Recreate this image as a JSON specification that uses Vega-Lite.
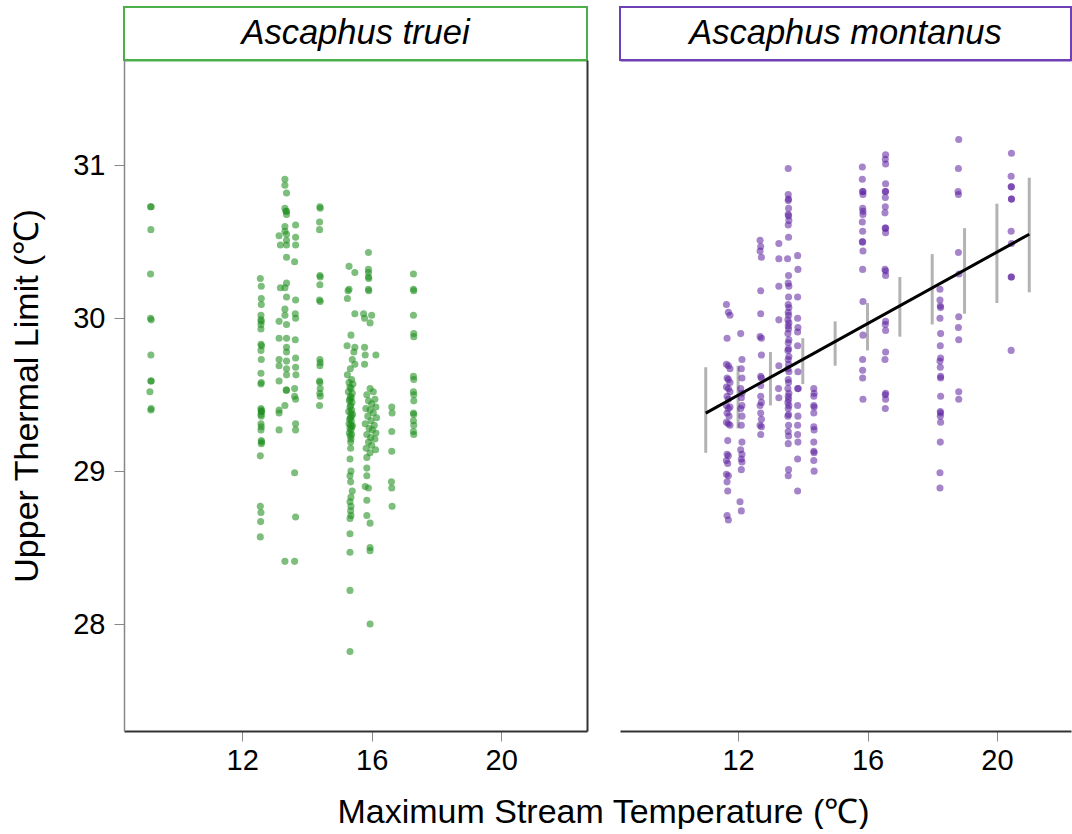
{
  "$schema": "https://vega.github.io/schema/vega-lite/v6.json",
  "background": "white",
  "padding": {"left": 10, "top": 6, "right": 0, "bottom": 0},
  "bounds": "flush",
  "columns": 2,
  "spacing": {"row": 0, "column": 33},
  "config": {
    "view": {"stroke": null},
    "font": "Liberation Sans",
    "axis": {"grid": false, "labelFont": "Liberation Sans", "titleFont": "Liberation Sans", "labelFontSize": 29, "titleFontSize": 34, "titleFontWeight": "normal", "labelColor": "black", "titleColor": "black", "tickColor": "#888888", "tickSize": 10, "tickWidth": 1}
  },
  "datasets": {
    "truei": [
      {"t":9.17,"u":30.73},{"t":9.19,"u":30.73},{"t":9.18,"u":30.58},{"t":9.17,"u":30.29},{"t":9.17,"u":30.00},{"t":9.19,"u":29.99},{"t":9.18,"u":29.76},{"t":9.18,"u":29.59},{"t":9.19,"u":29.59},{"t":9.15,"u":29.52},{"t":9.19,"u":29.41},{"t":9.18,"u":29.40},
      {"t":12.56,"u":30.26},{"t":12.59,"u":30.21},{"t":12.59,"u":30.13},{"t":12.59,"u":30.09},{"t":12.58,"u":30.02},{"t":12.58,"u":29.99},{"t":12.59,"u":29.98},{"t":12.58,"u":29.96},{"t":12.58,"u":29.93},{"t":12.58,"u":29.83},{"t":12.6,"u":29.82},{"t":12.58,"u":29.79},{"t":12.59,"u":29.73},{"t":12.58,"u":29.64},{"t":12.59,"u":29.58},{"t":12.58,"u":29.57},{"t":12.58,"u":29.41},{"t":12.59,"u":29.40},{"t":12.6,"u":29.39},{"t":12.59,"u":29.39},{"t":12.58,"u":29.37},{"t":12.59,"u":29.36},{"t":12.58,"u":29.31},{"t":12.59,"u":29.29},{"t":12.58,"u":29.27},{"t":12.59,"u":29.20},{"t":12.6,"u":29.19},{"t":12.59,"u":29.18},{"t":12.56,"u":29.10},{"t":12.56,"u":28.77},{"t":12.58,"u":28.73},{"t":12.57,"u":28.67},{"t":12.56,"u":28.57},
      {"t":13.32,"u":30.91},{"t":13.32,"u":30.87},{"t":13.37,"u":30.82},{"t":13.32,"u":30.72},{"t":13.37,"u":30.70},{"t":13.35,"u":30.70},{"t":13.37,"u":30.68},{"t":13.32,"u":30.60},{"t":13.32,"u":30.57},{"t":13.37,"u":30.55},{"t":13.14,"u":30.54},{"t":13.37,"u":30.51},{"t":13.18,"u":30.48},{"t":13.37,"u":30.48},{"t":13.37,"u":30.40},{"t":13.37,"u":30.23},{"t":13.18,"u":30.20},{"t":13.32,"u":30.20},{"t":13.37,"u":30.14},{"t":13.32,"u":30.06},{"t":13.32,"u":30.02},{"t":13.14,"u":29.98},{"t":13.37,"u":29.96},{"t":13.14,"u":29.87},{"t":13.37,"u":29.87},{"t":13.37,"u":29.81},{"t":13.37,"u":29.78},{"t":13.14,"u":29.73},{"t":13.37,"u":29.72},{"t":13.14,"u":29.69},{"t":13.37,"u":29.67},{"t":13.37,"u":29.63},{"t":13.14,"u":29.59},{"t":13.37,"u":29.53},{"t":13.36,"u":29.53},{"t":13.32,"u":29.43},{"t":13.14,"u":29.40},{"t":13.14,"u":29.38},{"t":13.14,"u":29.27},{"t":13.32,"u":28.41},
      {"t":13.65,"u":30.61},{"t":13.65,"u":30.53},{"t":13.65,"u":30.48},{"t":13.62,"u":30.37},{"t":13.65,"u":30.12},{"t":13.64,"u":30.03},{"t":13.65,"u":30.00},{"t":13.64,"u":29.86},{"t":13.65,"u":29.74},{"t":13.65,"u":29.68},{"t":13.66,"u":29.63},{"t":13.62,"u":29.54},{"t":13.62,"u":29.49},{"t":13.65,"u":29.47},{"t":13.65,"u":29.31},{"t":13.65,"u":29.27},{"t":13.62,"u":28.99},{"t":13.65,"u":28.70},{"t":13.62,"u":28.41},
      {"t":14.40,"u":30.73},{"t":14.41,"u":30.72},{"t":14.39,"u":30.63},{"t":14.39,"u":30.58},{"t":14.40,"u":30.28},{"t":14.41,"u":30.27},{"t":14.40,"u":30.22},{"t":14.39,"u":30.12},{"t":14.41,"u":30.11},{"t":14.40,"u":29.73},{"t":14.41,"u":29.71},{"t":14.40,"u":29.69},{"t":14.39,"u":29.59},{"t":14.40,"u":29.58},{"t":14.41,"u":29.54},{"t":14.40,"u":29.51},{"t":14.41,"u":29.49},{"t":14.39,"u":29.43},
      {"t":15.30,"u":30.34},{"t":15.48,"u":30.30},{"t":15.30,"u":30.19},{"t":15.27,"u":30.18},{"t":15.25,"u":30.13},{"t":15.48,"u":30.03},{"t":15.36,"u":29.89},{"t":15.24,"u":29.82},{"t":15.48,"u":29.81},{"t":15.45,"u":29.78},{"t":15.40,"u":29.73},{"t":15.48,"u":29.70},{"t":15.34,"u":29.67},{"t":15.25,"u":29.63},
      {"t":15.38,"u":29.60},{"t":15.30,"u":29.58},{"t":15.42,"u":29.57},{"t":15.33,"u":29.55},{"t":15.36,"u":29.54},{"t":15.28,"u":29.52},{"t":15.40,"u":29.51},{"t":15.34,"u":29.49},{"t":15.37,"u":29.48},{"t":15.31,"u":29.46},{"t":15.39,"u":29.45},{"t":15.35,"u":29.43},{"t":15.33,"u":29.42},{"t":15.38,"u":29.40},{"t":15.29,"u":29.39},{"t":15.36,"u":29.38},{"t":15.41,"u":29.37},{"t":15.34,"u":29.35},{"t":15.32,"u":29.34},{"t":15.37,"u":29.33},{"t":15.30,"u":29.31},{"t":15.35,"u":29.30},{"t":15.39,"u":29.29},{"t":15.33,"u":29.28},{"t":15.36,"u":29.27},{"t":15.31,"u":29.25},{"t":15.38,"u":29.24},{"t":15.34,"u":29.23},{"t":15.36,"u":29.21},{"t":15.40,"u":29.30},{"t":15.33,"u":29.47},{"t":15.37,"u":29.36},
      {"t":15.35,"u":29.19},{"t":15.35,"u":29.15},{"t":15.33,"u":29.08},{"t":15.36,"u":29.00},{"t":15.33,"u":28.97},{"t":15.35,"u":28.93},{"t":15.40,"u":28.87},{"t":15.36,"u":28.83},{"t":15.33,"u":28.80},{"t":15.36,"u":28.77},{"t":15.35,"u":28.74},{"t":15.36,"u":28.71},{"t":15.33,"u":28.69},{"t":15.33,"u":28.59},{"t":15.33,"u":28.47},{"t":15.33,"u":28.22},{"t":15.33,"u":27.82},
      {"t":15.90,"u":30.43},{"t":15.90,"u":30.32},{"t":15.90,"u":30.30},{"t":15.90,"u":30.27},{"t":15.91,"u":30.26},{"t":15.90,"u":30.19},{"t":15.91,"u":30.18},{"t":15.75,"u":30.03},{"t":16.00,"u":30.02},{"t":15.78,"u":30.00},{"t":15.95,"u":29.97},{"t":15.78,"u":29.81},{"t":15.80,"u":29.76},{"t":15.78,"u":29.70},{"t":16.13,"u":29.76},
      {"t":15.95,"u":29.54},{"t":16.05,"u":29.52},{"t":15.85,"u":29.50},{"t":16.10,"u":29.47},{"t":15.90,"u":29.46},{"t":16.00,"u":29.44},{"t":16.13,"u":29.42},{"t":15.82,"u":29.41},{"t":15.95,"u":29.40},{"t":16.05,"u":29.38},{"t":15.88,"u":29.36},{"t":16.15,"u":29.35},{"t":15.98,"u":29.33},{"t":15.80,"u":29.31},{"t":16.08,"u":29.30},{"t":15.92,"u":29.28},{"t":16.02,"u":29.27},{"t":16.13,"u":29.25},{"t":15.85,"u":29.24},{"t":15.97,"u":29.22},{"t":16.10,"u":29.21},{"t":15.90,"u":29.19},{"t":16.00,"u":29.17},{"t":15.83,"u":29.15},{"t":16.12,"u":29.14},{"t":15.95,"u":29.12},
      {"t":15.85,"u":29.09},{"t":15.85,"u":29.02},{"t":15.85,"u":28.97},{"t":15.80,"u":28.90},{"t":15.90,"u":28.89},{"t":15.85,"u":28.81},{"t":15.85,"u":28.71},{"t":15.95,"u":28.66},{"t":15.95,"u":28.50},{"t":15.95,"u":28.48},{"t":15.95,"u":28.00},
      {"t":16.62,"u":29.42},{"t":16.63,"u":29.38},{"t":16.62,"u":29.26},{"t":16.62,"u":29.13},{"t":16.61,"u":28.93},{"t":16.62,"u":28.89},{"t":16.63,"u":28.77},
      {"t":17.29,"u":30.29},{"t":17.29,"u":30.19},{"t":17.30,"u":30.18},{"t":17.29,"u":30.02},{"t":17.30,"u":29.90},{"t":17.30,"u":29.88},{"t":17.29,"u":29.62},{"t":17.30,"u":29.60},{"t":17.29,"u":29.52},{"t":17.30,"u":29.50},{"t":17.30,"u":29.46},{"t":17.29,"u":29.38},{"t":17.30,"u":29.37},{"t":17.29,"u":29.33},{"t":17.30,"u":29.30},{"t":17.29,"u":29.26},{"t":17.30,"u":29.24}
    ],
    "montanus": [
      {"t":11.64,"u":30.09},{"t":11.70,"u":30.04},{"t":11.75,"u":30.02},{"t":11.66,"u":29.87},{"t":11.64,"u":29.70},{"t":11.70,"u":29.69},{"t":11.75,"u":29.67},{"t":11.66,"u":29.61},{"t":11.70,"u":29.60},{"t":11.75,"u":29.58},{"t":11.64,"u":29.55},{"t":11.70,"u":29.54},{"t":11.75,"u":29.52},{"t":11.66,"u":29.49},{"t":11.70,"u":29.47},{"t":11.64,"u":29.43},{"t":11.75,"u":29.42},{"t":11.70,"u":29.41},{"t":11.66,"u":29.38},{"t":11.72,"u":29.36},{"t":11.64,"u":29.32},{"t":11.70,"u":29.31},{"t":11.75,"u":29.30},{"t":11.68,"u":29.20},{"t":11.66,"u":29.11},{"t":11.70,"u":29.10},{"t":11.64,"u":29.07},{"t":11.68,"u":29.05},{"t":11.64,"u":28.98},{"t":11.70,"u":28.97},{"t":11.66,"u":28.93},{"t":11.68,"u":28.87},{"t":11.66,"u":28.71},{"t":11.70,"u":28.68},
      {"t":12.08,"u":29.90},{"t":12.12,"u":29.73},{"t":12.10,"u":29.67},{"t":12.12,"u":29.61},{"t":12.08,"u":29.54},{"t":12.12,"u":29.51},{"t":12.10,"u":29.48},{"t":12.12,"u":29.43},{"t":12.08,"u":29.41},{"t":12.12,"u":29.36},{"t":12.10,"u":29.30},{"t":12.12,"u":29.19},{"t":12.08,"u":29.14},{"t":12.12,"u":29.11},{"t":12.10,"u":29.08},{"t":12.12,"u":29.06},{"t":12.10,"u":29.01},{"t":12.06,"u":28.80},{"t":12.10,"u":28.74},
      {"t":12.68,"u":30.51},{"t":12.70,"u":30.47},{"t":12.68,"u":30.44},{"t":12.72,"u":30.40},{"t":12.70,"u":30.18},{"t":12.70,"u":30.03},{"t":12.68,"u":29.88},{"t":12.72,"u":29.87},{"t":12.72,"u":29.76},{"t":12.70,"u":29.62},{"t":12.72,"u":29.61},{"t":12.70,"u":29.56},{"t":12.70,"u":29.49},{"t":12.72,"u":29.45},{"t":12.68,"u":29.43},{"t":12.70,"u":29.38},{"t":12.72,"u":29.34},{"t":12.68,"u":29.30},{"t":12.72,"u":29.29},{"t":12.70,"u":29.24},
      {"t":13.26,"u":30.49},{"t":13.26,"u":30.39},{"t":13.26,"u":30.21},{"t":13.26,"u":29.99},{"t":13.26,"u":29.69},{"t":13.25,"u":29.54},{"t":13.26,"u":29.48},
      {"t":13.55,"u":30.98},{"t":13.55,"u":30.81},{"t":13.56,"u":30.78},{"t":13.55,"u":30.77},{"t":13.56,"u":30.72},{"t":13.55,"u":30.68},{"t":13.56,"u":30.67},{"t":13.57,"u":30.64},{"t":13.55,"u":30.61},{"t":13.56,"u":30.53},{"t":13.53,"u":30.39},{"t":13.56,"u":30.28},{"t":13.55,"u":30.23},{"t":13.57,"u":30.21},{"t":13.56,"u":30.14},{"t":13.55,"u":30.09},{"t":13.57,"u":30.07},{"t":13.55,"u":30.04},{"t":13.56,"u":30.02},{"t":13.54,"u":29.99},{"t":13.57,"u":29.97},{"t":13.55,"u":29.95},{"t":13.56,"u":29.93},{"t":13.54,"u":29.90},{"t":13.57,"u":29.86},{"t":13.55,"u":29.84},{"t":13.56,"u":29.80},{"t":13.54,"u":29.79},{"t":13.57,"u":29.75},{"t":13.55,"u":29.73},{"t":13.56,"u":29.70},{"t":13.54,"u":29.67},{"t":13.57,"u":29.65},{"t":13.55,"u":29.60},{"t":13.56,"u":29.58},{"t":13.54,"u":29.54},{"t":13.57,"u":29.51},{"t":13.55,"u":29.49},{"t":13.56,"u":29.47},{"t":13.54,"u":29.45},{"t":13.57,"u":29.43},{"t":13.55,"u":29.41},{"t":13.56,"u":29.37},{"t":13.54,"u":29.36},{"t":13.56,"u":29.30},{"t":13.55,"u":29.26},{"t":13.56,"u":29.23},{"t":13.55,"u":29.18},{"t":13.56,"u":29.01},{"t":13.55,"u":28.97},
      {"t":13.84,"u":30.41},{"t":13.85,"u":30.32},{"t":13.84,"u":30.14},{"t":13.84,"u":30.00},{"t":13.85,"u":29.94},{"t":13.84,"u":29.91},{"t":13.84,"u":29.82},{"t":13.85,"u":29.65},{"t":13.84,"u":29.54},{"t":13.86,"u":29.54},{"t":13.84,"u":29.43},{"t":13.85,"u":29.36},{"t":13.84,"u":29.30},{"t":13.84,"u":29.24},{"t":13.85,"u":29.19},{"t":13.84,"u":29.08},{"t":13.84,"u":28.87},
      {"t":14.34,"u":29.54},{"t":14.35,"u":29.51},{"t":14.34,"u":29.49},{"t":14.34,"u":29.43},{"t":14.35,"u":29.42},{"t":14.34,"u":29.38},{"t":14.34,"u":29.29},{"t":14.35,"u":29.27},{"t":14.34,"u":29.19},{"t":14.34,"u":29.13},{"t":14.35,"u":29.12},{"t":14.34,"u":29.07},{"t":14.35,"u":29.00},
      {"t":15.84,"u":30.99},{"t":15.84,"u":30.91},{"t":15.86,"u":30.83},{"t":15.85,"u":30.83},{"t":15.86,"u":30.81},{"t":15.85,"u":30.72},{"t":15.86,"u":30.70},{"t":15.86,"u":30.68},{"t":15.84,"u":30.63},{"t":15.85,"u":30.57},{"t":15.85,"u":30.50},{"t":15.84,"u":30.50},{"t":15.86,"u":30.44},{"t":15.85,"u":30.32},{"t":15.86,"u":30.11},{"t":15.86,"u":29.89},{"t":15.85,"u":29.73},{"t":15.85,"u":29.66},{"t":15.85,"u":29.61},{"t":15.86,"u":29.47},
      {"t":16.56,"u":31.07},{"t":16.55,"u":31.04},{"t":16.56,"u":31.01},{"t":16.56,"u":30.88},{"t":16.55,"u":30.83},{"t":16.56,"u":30.83},{"t":16.55,"u":30.79},{"t":16.55,"u":30.73},{"t":16.54,"u":30.69},{"t":16.55,"u":30.59},{"t":16.56,"u":30.59},{"t":16.56,"u":30.56},{"t":16.54,"u":30.32},{"t":16.56,"u":30.31},{"t":16.56,"u":30.28},{"t":16.56,"u":29.98},{"t":16.55,"u":29.96},{"t":16.56,"u":29.92},{"t":16.56,"u":29.78},{"t":16.54,"u":29.73},{"t":16.56,"u":29.51},{"t":16.55,"u":29.50},{"t":16.56,"u":29.47},{"t":16.55,"u":29.41},
      {"t":18.24,"u":30.19},{"t":18.24,"u":30.12},{"t":18.25,"u":30.08},{"t":18.26,"u":30.07},{"t":18.24,"u":30.00},{"t":18.26,"u":29.90},{"t":18.25,"u":29.82},{"t":18.26,"u":29.74},{"t":18.24,"u":29.72},{"t":18.25,"u":29.68},{"t":18.26,"u":29.62},{"t":18.26,"u":29.61},{"t":18.26,"u":29.49},{"t":18.25,"u":29.39},{"t":18.26,"u":29.38},{"t":18.25,"u":29.36},{"t":18.26,"u":29.32},{"t":18.25,"u":29.19},{"t":18.24,"u":28.99},{"t":18.24,"u":28.89},
      {"t":18.82,"u":31.17},{"t":18.81,"u":30.98},{"t":18.80,"u":30.83},{"t":18.81,"u":30.81},{"t":18.81,"u":30.43},{"t":18.83,"u":30.29},{"t":18.82,"u":30.01},{"t":18.81,"u":29.94},{"t":18.82,"u":29.86},{"t":18.82,"u":29.52},{"t":18.82,"u":29.47},
      {"t":20.45,"u":31.08},{"t":20.44,"u":30.93},{"t":20.45,"u":30.86},{"t":20.44,"u":30.86},{"t":20.45,"u":30.78},{"t":20.45,"u":30.78},{"t":20.44,"u":30.57},{"t":20.45,"u":30.49},{"t":20.45,"u":30.27},{"t":20.44,"u":30.27},{"t":20.44,"u":29.79}
    ],
    "fit": [{"t":11,"u":29.38},{"t":21,"u":30.55}],
    "bars": [
      {"t":11,"lo":29.12,"hi":29.68},{"t":12,"lo":29.28,"hi":29.69},{"t":13,"lo":29.43,"hi":29.78},{"t":14,"lo":29.57,"hi":29.87},{"t":15,"lo":29.69,"hi":29.98},{"t":16,"lo":29.79,"hi":30.10},{"t":17,"lo":29.88,"hi":30.27},{"t":18,"lo":29.96,"hi":30.42},{"t":19,"lo":30.03,"hi":30.59},{"t":20,"lo":30.10,"hi":30.75},{"t":21,"lo":30.17,"hi":30.92}
    ]
  },
  "concat": [
    {
      "width": 463, "height": 53,
      "data": {"values": [{"species": "Ascaphus truei"}]},
      "view": {"stroke": "#4daf4a", "strokeWidth": 2},
      "mark": {"type": "text", "font": "Liberation Sans", "fontSize": 34.5, "fontStyle": "italic", "color": "black", "align": "center", "baseline": "middle"},
      "encoding": {"text": {"field": "species"}}
    },
    {
      "width": 451, "height": 53,
      "data": {"values": [{"species": "Ascaphus montanus"}]},
      "view": {"stroke": "#6f3fb5", "strokeWidth": 2},
      "mark": {"type": "text", "font": "Liberation Sans", "fontSize": 34.5, "fontStyle": "italic", "color": "black", "align": "center", "baseline": "middle"},
      "encoding": {"text": {"field": "species"}}
    },
    {
      "width": 463, "height": 671,
      "data": {"name": "truei"},
      "layer": [
        {
          "mark": {"type": "circle", "size": 50, "color": "#1f8f1f", "opacity": 0.58},
          "encoding": {
            "x": {"field": "t", "type": "quantitative", "scale": {"domain": [8.35, 22.65], "nice": false, "zero": false},
                  "axis": {"orient": "bottom", "values": [12, 16, 20], "domainColor": "#333333", "domainWidth": 2, "labelPadding": 5, "title": "Maximum Stream Temperature (℃)", "titleX": 479, "titleY": 91, "titleBaseline": "alphabetic", "titleAlign": "center"}},
            "y": {"field": "u", "type": "quantitative", "scale": {"domain": [27.30, 31.69], "nice": false, "zero": false},
                  "axis": {"orient": "left", "values": [28, 29, 30, 31], "domainColor": "#888888", "domainWidth": 1.5, "labelPadding": 9, "titlePadding": 28, "title": "Upper Thermal Limit (℃)"}}
          }
        },
        {
          "mark": {"type": "circle", "opacity": 0},
          "encoding": {
            "x": {"field": "t", "type": "quantitative", "axis": {"orient": "top", "labels": false, "ticks": false, "title": null, "domainColor": "#4daf4a", "domainWidth": 2}},
            "y": {"field": "u", "type": "quantitative", "axis": {"orient": "right", "labels": false, "ticks": false, "title": null, "domainColor": "#333333", "domainWidth": 2}}
          }
        }
      ]
    },
    {
      "width": 451, "height": 671,
      "layer": [
        {
          "data": {"name": "bars"},
          "mark": {"type": "rule", "color": "#b3b3b3", "strokeWidth": 3},
          "encoding": {
            "x": {"field": "t", "type": "quantitative", "scale": {"domain": [8.35, 22.29], "nice": false, "zero": false},
                  "axis": {"orient": "top", "labels": false, "ticks": false, "title": null, "domainColor": "#6f3fb5", "domainWidth": 2}},
            "y": {"field": "lo", "type": "quantitative", "scale": {"domain": [27.30, 31.69], "nice": false, "zero": false}, "axis": null},
            "y2": {"field": "hi"}
          }
        },
        {
          "data": {"name": "montanus"},
          "mark": {"type": "circle", "size": 50, "color": "#5b1f9e", "opacity": 0.55},
          "encoding": {
            "x": {"field": "t", "type": "quantitative", "axis": {"orient": "bottom", "values": [12, 16, 20], "domainColor": "#333333", "domainWidth": 2, "labelPadding": 5, "title": null}},
            "y": {"field": "u", "type": "quantitative", "axis": {"orient": "left", "labels": false, "ticks": false, "title": null, "domainColor": "#888888", "domainWidth": 1.5}}
          }
        },
        {
          "data": {"name": "fit"},
          "mark": {"type": "line", "color": "black", "strokeWidth": 3},
          "encoding": {
            "x": {"field": "t", "type": "quantitative", "axis": null},
            "y": {"field": "u", "type": "quantitative", "axis": null}
          }
        }
      ]
    }
  ]
}
